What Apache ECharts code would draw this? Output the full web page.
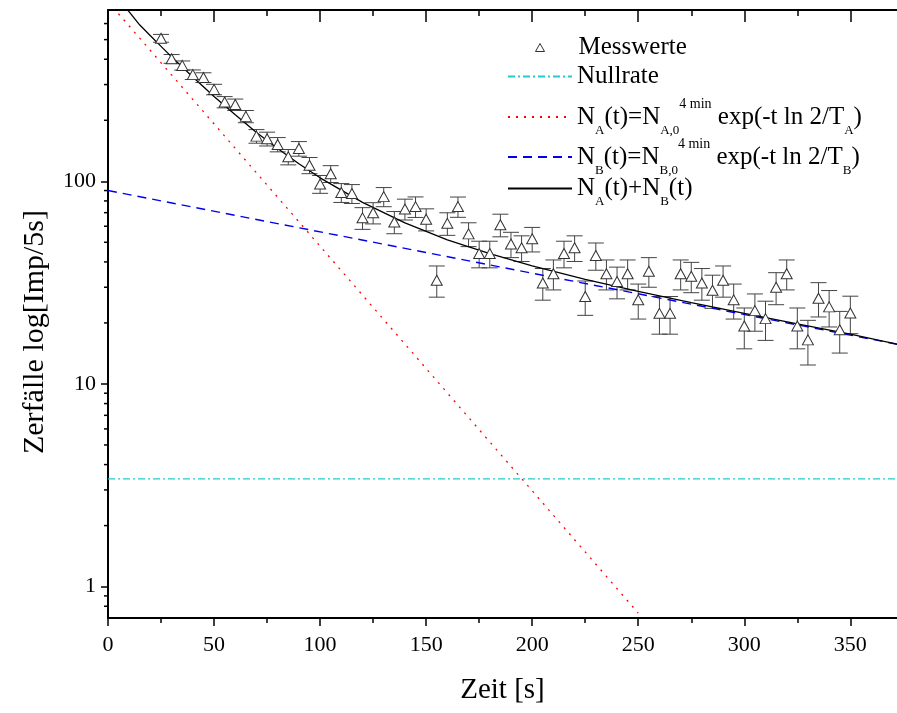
<!DOCTYPE html>
<html><head><meta charset="utf-8">
<script src="https://cdn.jsdelivr.net/npm/echarts@6/dist/echarts.min.js"></script>
<style>html,body{margin:0;padding:0;background:#fff}#c{width:897px;height:713px}</style>
</head><body><div id="c"></div>
<script>
// ---- data ----
const times = [25,30,35,40,45,50,55,60,65,70,75,80,85,90,95,100,105,110,115,120,125,130,135,140,145,150,155,160,165,170,175,180,185,190,195,200,205,210,215,220,225,230,235,240,245,250,255,260,265,270,275,280,285,290,295,300,305,310,315,320,325,330,335,340,345,350];
const counts = [508,402,373,336,325,284,246,239,209,167,162,152,132,145,120,97,109,88,87,66,70,84,63,73,75,65,32.5,62,75,55,44,44,61,49,47,52,31.5,35,44,47,27,43,35,32,35,26,36,22.3,22.3,35,34,31.5,29,32.5,26,19.3,23,21,30,35,19.3,16.5,26.5,24,18.5,22.4];
const errors = [22.5,20,19.3,18.3,18,16.9,15.7,15.5,14.5,12.9,12.7,12.3,11.5,12,11,9.8,10.4,9.4,9.3,8.1,8.4,9.1,7.9,8.6,8.7,8.1,5.7,7.9,8.6,7.4,6.6,6.6,7.8,7,6.8,7.2,5.6,5.9,6.6,6.8,5.2,6.6,5.9,5.7,5.9,5.1,6,4.7,4.7,5.9,5.8,5.6,5.4,5.7,5.1,4.4,4.8,4.6,5.4,5.9,4.4,4.1,5.1,4.9,4.3,4.7];
const nullrateT = [0, 372];
const nullrateV = [3.4, 3.4];
const fitAT = [0, 250];
const fitAV = [770, 0.74];
const fitBT = [0, 372];
const fitBV = [90, 15.7];
const sumT = [5,8,10,15,20,25,30,40,50,60,70,80,90,100,120,140,160,180,200,225,250,275,300,325,350,372];
const sumV = [775,720,685,590,522,463,411,327,262,213,174,145,122,104,78.7,62.3,51.4,43.9,38.2,32.8,28.6,25.2,22.3,19.8,17.6,15.7];
const xTickLabels = [0,50,100,150,200,250,300,350];
const xMinorTicks = [25,75,125,175,225,275,325];
const yTickLabels = [1,10,100];
const yMinorTicks = [0.8,0.9,2,3,4,5,6,7,8,9,20,30,40,50,60,70,80,90,200,300,400,500,600];

const NAME_MESS = 'Messwerte';
const NAME_NULL = 'Nullrate';
const NAME_A = 'N_A(t)=N_A,0^4 min exp(-t ln 2/T_A)';
const NAME_B = 'N_B(t)=N_B,0^4 min exp(-t ln 2/T_B)';
const NAME_AB = 'N_A(t)+N_B(t)';

const F = '"Liberation Serif", "Times New Roman", serif';
const chart = echarts.init(document.getElementById('c'));

const pair = (xs, ys) => xs.map((x, i) => [x, ys[i]]);

const legendRich = {
  g: {width: 29, fontSize: 24, lineHeight: 40},
  n: {fontFamily: F, fontSize: 25, color: '#000', lineHeight: 40},
  s: {fontFamily: F, fontSize: 13, color: '#000', lineHeight: 12, verticalAlign: 'bottom'},
  p: {fontFamily: F, fontSize: 14, color: '#000', lineHeight: 18, verticalAlign: 'top'}
};
const legendText = {};
legendText[NAME_MESS] = '{g| }{n|Messwerte}';
legendText[NAME_NULL] = '{n|Nullrate}';
legendText[NAME_A] = '{n|N}{s|A}{n|(t)=N}{s|A,0}{p|4 min}{n| exp(-t ln 2/T}{s|A}{n|)}';
legendText[NAME_B] = '{n|N}{s|B}{n|(t)=N}{s|B,0}{p|4 min}{n| exp(-t ln 2/T}{s|B}{n|)}';
legendText[NAME_AB] = '{n|N}{s|A}{n|(t)+N}{s|B}{n|(t)}';

const legendRows = [
  {name: NAME_MESS, top: 35, left: 535, w: 9, h: 8, sym: true},
  {name: NAME_NULL, top: 64, left: 507, w: 64, h: 10, sym: false},
  {name: NAME_A, top: 97, left: 507, w: 64, h: 10, sym: false},
  {name: NAME_B, top: 137, left: 507, w: 64, h: 10, sym: false},
  {name: NAME_AB, top: 176, left: 507, w: 64, h: 10, sym: false}
];

const baseX = {type: 'value', min: 0, max: 372, gridIndex: 0, splitLine: {show: false}};

const option = {
  animation: false,
  backgroundColor: '#fff',
  grid: {left: 108, right: 0, top: 10, bottom: 95, containLabel: false, outerBoundsMode: 'none'},
  legend: legendRows.map(r => ({
    data: [r.sym ? {name: r.name, icon: 'triangle'} : r.name],
    orient: 'vertical', left: r.left, top: r.top, padding: 0,
    itemWidth: r.w, itemHeight: r.h, itemGap: 0, selectedMode: false,
    itemStyle: r.sym ? {color: '#fff', borderColor: '#333', borderWidth: 1} : {opacity: 0},
    formatter: name => legendText[name],
    textStyle: {rich: legendRich, fontFamily: F, fontSize: 25, color: '#000'}
  })),
  xAxis: [
    Object.assign({}, baseX, {
      position: 'bottom',
      axisLine: {show: true, onZero: false, lineStyle: {color: '#000', width: 2}},
      axisTick: {show: true, inside: false, length: 8, customValues: xTickLabels,
        lineStyle: {color: '#000', width: 1.5}},
      axisLabel: {show: true, margin: 16, color: '#000', fontFamily: F, fontSize: 22,
        customValues: xTickLabels, formatter: v => String(v)},
      name: 'Zeit [s]', nameLocation: 'middle', nameGap: 58,
      nameTextStyle: {fontFamily: F, fontSize: 29, color: '#000'}
    }),
    Object.assign({}, baseX, {
      position: 'bottom',
      axisLine: {show: false, onZero: false},
      axisTick: {show: true, inside: false, length: 5, customValues: xMinorTicks,
        lineStyle: {color: '#000', width: 1.5}},
      axisLabel: {show: false}
    }),
    Object.assign({}, baseX, {
      position: 'top',
      axisLine: {show: true, onZero: false, lineStyle: {color: '#000', width: 2}},
      axisTick: {show: true, inside: true, length: 12, customValues: xTickLabels,
        lineStyle: {color: '#000', width: 1.5}},
      axisLabel: {show: false}
    }),
    Object.assign({}, baseX, {
      position: 'top',
      axisLine: {show: false, onZero: false},
      axisTick: {show: true, inside: true, length: 6, customValues: xMinorTicks,
        lineStyle: {color: '#000', width: 1.5}},
      axisLabel: {show: false}
    })
  ],
  yAxis: {
    type: 'log', logBase: 10, min: 0.7, max: 700, position: 'left',
    axisLine: {show: true, onZero: false, lineStyle: {color: '#000', width: 2}},
    axisTick: {show: true, inside: false, length: 7, customValues: yTickLabels,
      lineStyle: {color: '#000', width: 1.5}},
    axisLabel: {show: true, margin: 12, color: '#000', fontFamily: F, fontSize: 22,
      customValues: yTickLabels, formatter: v => String(Math.round(v))},
    splitLine: {show: false},
    minorTick: {show: false},
    name: 'Zerfälle log[Imp/5s]', nameLocation: 'middle', nameGap: 58,
    nameTextStyle: {fontFamily: F, fontSize: 30, color: '#000', padding: [0, 36, 0, 0]}
  },
  series: [
    {
      type: 'custom', name: 'errorbars', silent: true, z: 3,
      data: times.map((t, i) => [t, counts[i] - errors[i], counts[i] + errors[i]]),
      encode: {x: 0, y: [1, 2]},
      renderItem: (params, api) => {
        const t = api.value(0);
        const lo = api.coord([t, api.value(1)]);
        const hi = api.coord([t, api.value(2)]);
        const w = 8;
        const st = {stroke: '#444', lineWidth: 1};
        return {type: 'group', children: [
          {type: 'line', shape: {x1: lo[0], y1: lo[1], x2: hi[0], y2: hi[1]}, style: st},
          {type: 'line', shape: {x1: lo[0] - w, y1: lo[1], x2: lo[0] + w, y2: lo[1]}, style: st},
          {type: 'line', shape: {x1: hi[0] - w, y1: hi[1], x2: hi[0] + w, y2: hi[1]}, style: st}
        ]};
      }
    },
    {
      type: 'scatter', name: NAME_MESS, z: 6,
      data: pair(times, counts),
      symbol: 'triangle', symbolSize: [11, 10],
      itemStyle: {color: '#fff', borderColor: '#333', borderWidth: 1, opacity: 1}
    },
    {
      type: 'line', name: NAME_NULL, z: 4, showSymbol: false, symbol: 'none',
      data: pair(nullrateT, nullrateV),
      itemStyle: {color: '#22cccc'},
      lineStyle: {color: '#22cccc', width: 1.2, type: [7, 3, 2, 3]}
    },
    {
      type: 'line', name: NAME_A, z: 4, showSymbol: false, symbol: 'none',
      data: pair(fitAT, fitAV),
      itemStyle: {color: '#ff0000'},
      lineStyle: {color: '#ff0000', width: 1.3, type: [2, 6]}
    },
    {
      type: 'line', name: NAME_B, z: 4, showSymbol: false, symbol: 'none',
      data: pair(fitBT, fitBV),
      itemStyle: {color: '#0000ee'},
      lineStyle: {color: '#0000ee', width: 1.4, type: [9, 6]}
    },
    {
      type: 'line', name: NAME_AB, z: 5, showSymbol: false, symbol: 'none', smooth: false,
      data: pair(sumT, sumV),
      itemStyle: {color: '#000'},
      lineStyle: {color: '#000', width: 1.3, type: 'solid'}
    },
    {
      type: 'custom', name: 'yminor', silent: true, clip: false, z: 2,
      data: yMinorTicks.map(v => [0, v]),
      encode: {x: 0, y: 1},
      renderItem: (params, api) => {
        const p = api.coord([0, api.value(1)]);
        return {type: 'line', shape: {x1: p[0] - 4, y1: p[1], x2: p[0], y2: p[1]},
          style: {stroke: '#000', lineWidth: 1.5}};
      }
    }
  ]
};
chart.setOption(option);
</script>
</body></html>
